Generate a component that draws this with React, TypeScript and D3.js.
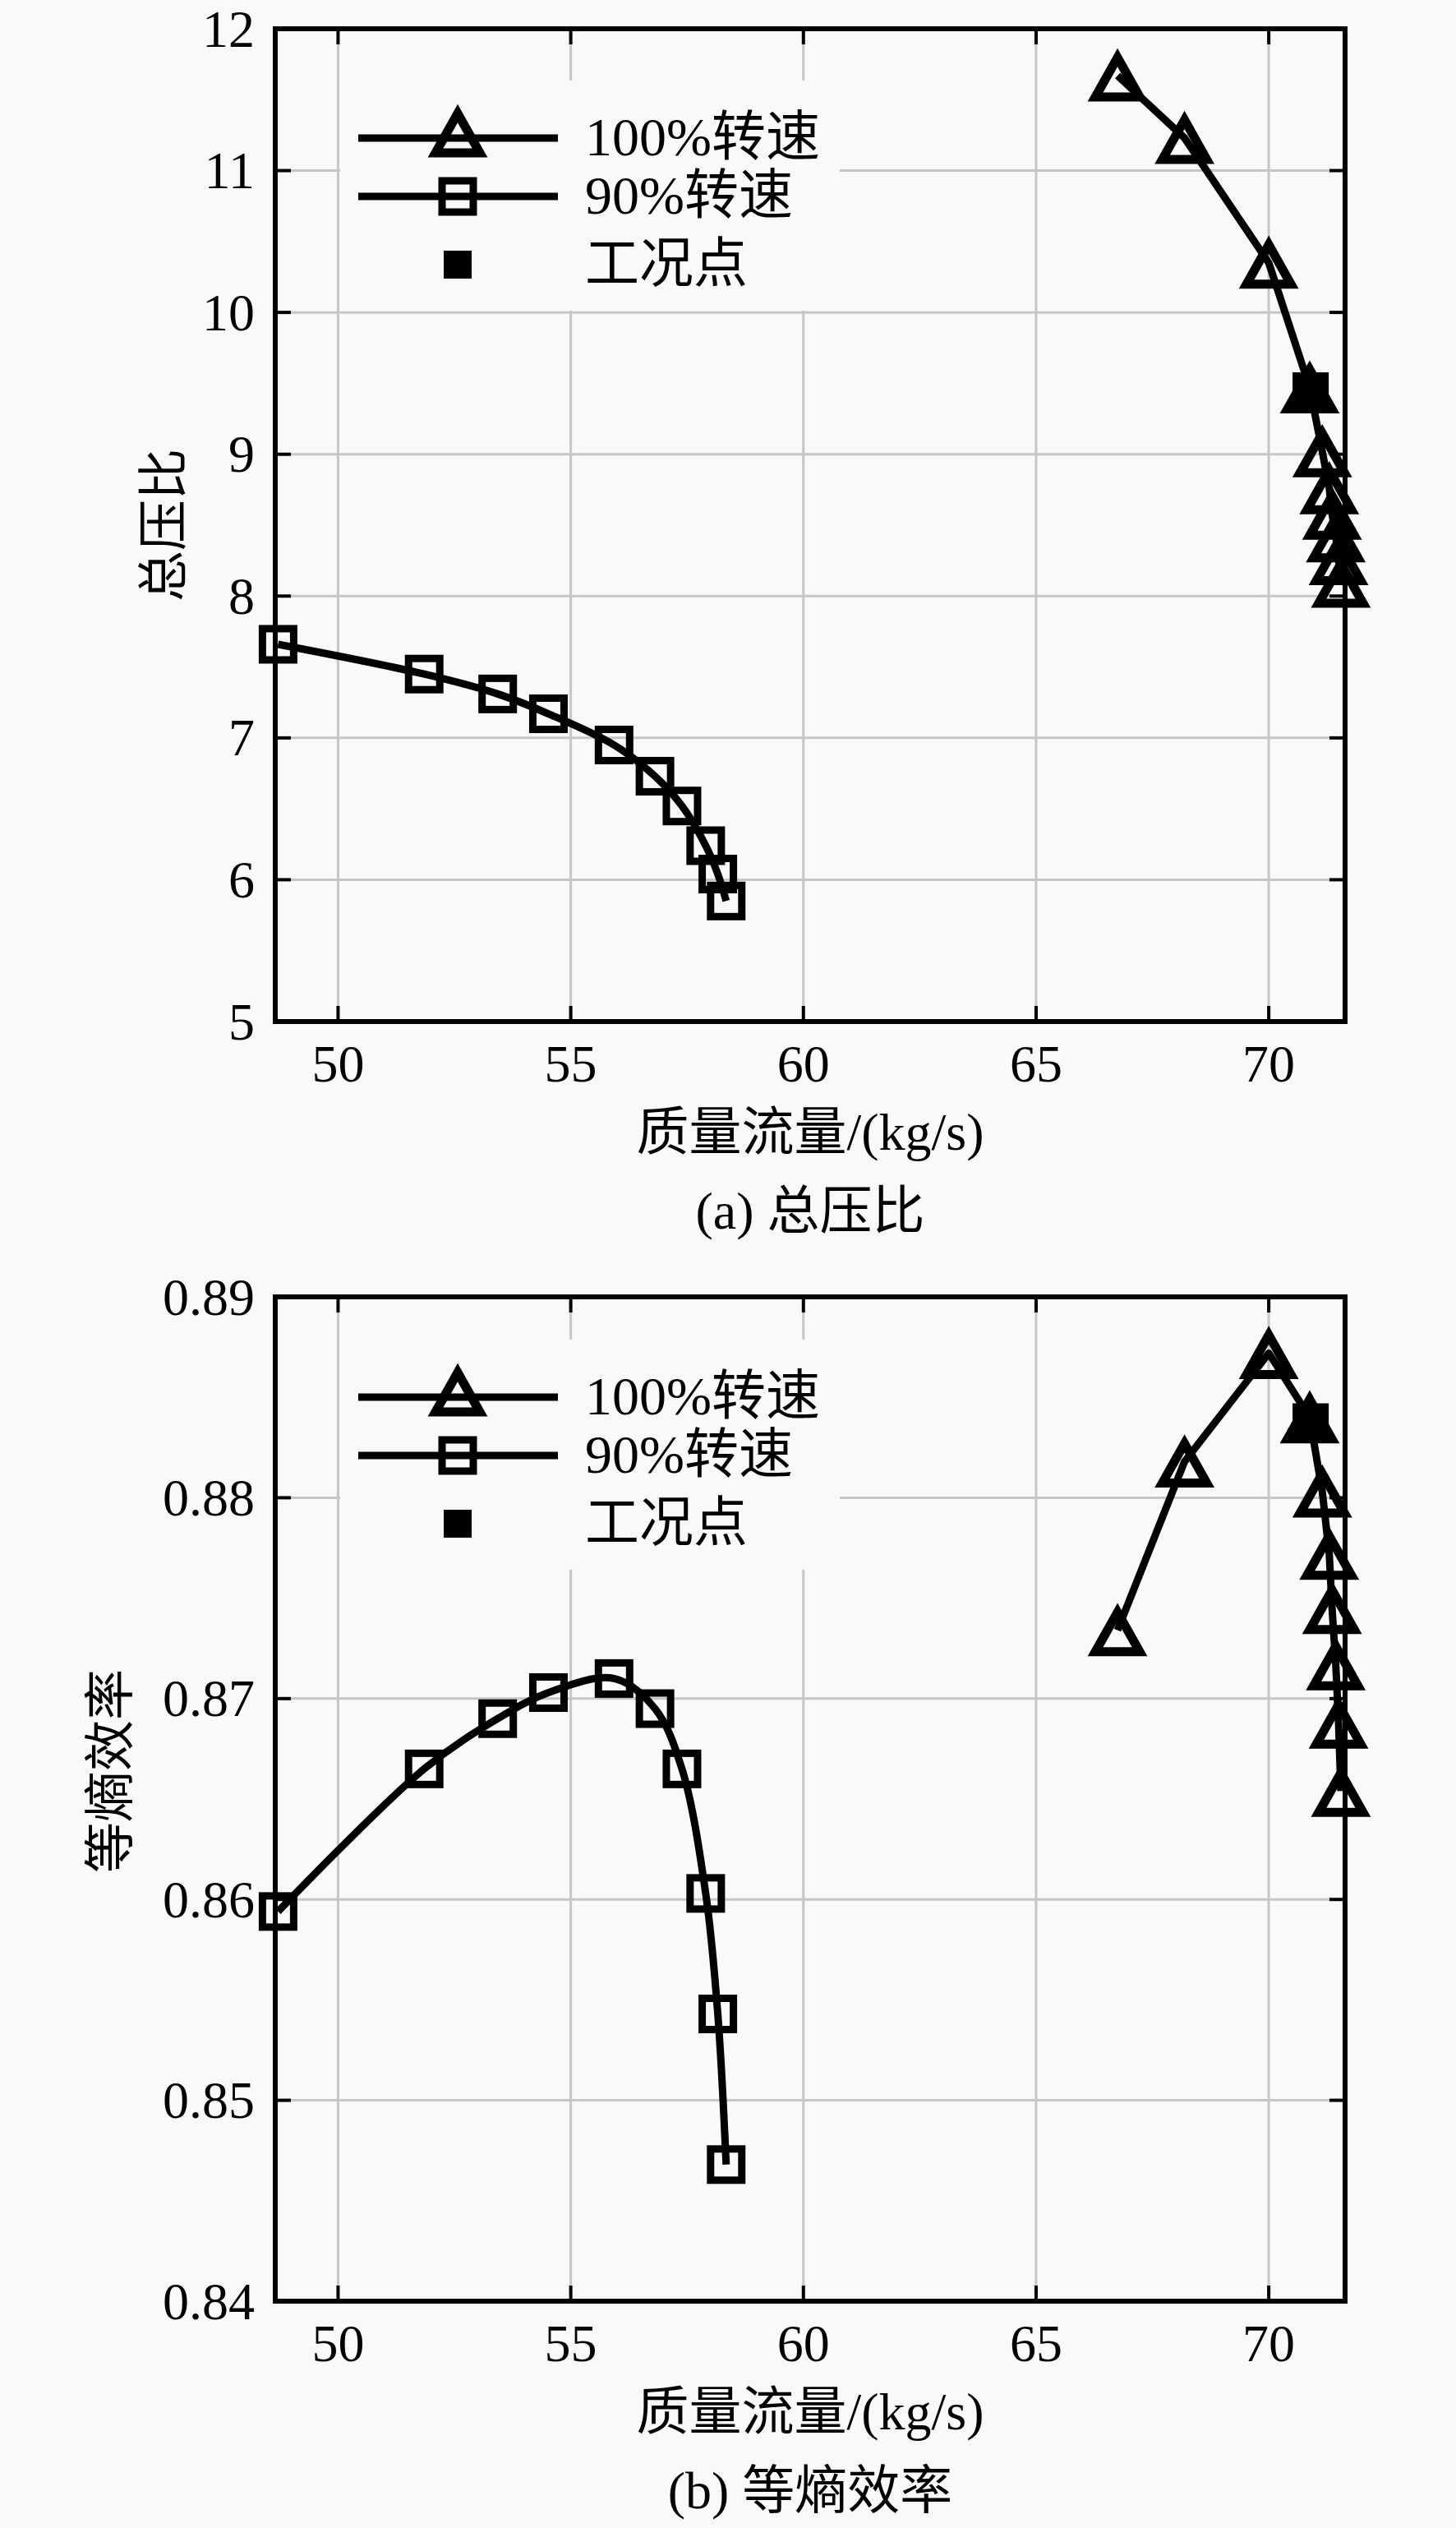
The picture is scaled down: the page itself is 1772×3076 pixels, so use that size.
import React, { useRef, useEffect } from 'react';
import * as d3 from 'd3';

// mass flow (kg/s) of each operating point
const flow100 = [66.75, 68.19, 70.0, 70.88, 71.15, 71.3, 71.36, 71.44, 71.5, 71.55];
const flow90 = [48.71, 51.85, 53.43, 54.52, 55.93, 56.81, 57.39, 57.9, 58.16, 58.34];

// total pressure ratio
const ratio100 = [11.67, 11.23, 10.35, 9.47, 9.02, 8.76, 8.58, 8.42, 8.26, 8.1];
const ratio90 = [7.66, 7.45, 7.31, 7.17, 6.95, 6.73, 6.52, 6.24, 6.04, 5.85];

// isentropic efficiency
const eff100 = [0.8734, 0.8818, 0.8872, 0.884, 0.8803, 0.8772, 0.8745, 0.8717, 0.8688, 0.8654];
const eff90 = [0.8594, 0.8665, 0.869, 0.8703, 0.871, 0.8695, 0.8665, 0.8603, 0.8543, 0.8468];

// design (working) point
const designFlow = 70.9;
const designRatio = 9.45;
const designEff = 0.8838;

const xTicks = [50, 55, 60, 65, 70];
const ratioTicks = [5, 6, 7, 8, 9, 10, 11, 12];
const effTicks = [0.84, 0.85, 0.86, 0.87, 0.88, 0.89];

const legendLabels = ['100%转速', '90%转速', '工况点'];
const xLabel = '质量流量/(kg/s)';

const W = 1772;
const H = 3076;
const BG = '#f9f9f9';
const FONT = 'Liberation Serif, Noto Sans CJK SC, serif';
const TRI = 'M0,-22 L27,26 L-27,26 Z';

interface PanelOpts {
  top: number;
  bottom: number;
  domain: [number, number];
  ticks: number[];
  fmt: (v: number) => string;
  y100: number[];
  y90: number[];
  yDesign: number;
  yTitle: string;
  yTitleX: number;
  yTitleY: number;
  caption: string;
  legendTop: number;
}

const drawPanel = (svg: d3.Selection<SVGSVGElement, unknown, null, undefined>, o: PanelOpts) => {
  const left = 335;
  const right = 1637;
  const x = d3.scaleLinear().domain([48.65, 71.64]).range([left, right]);
  const y = d3.scaleLinear().domain(o.domain).range([o.bottom, o.top]);
  const g = svg.append('g');

  // grid
  g.selectAll('line.gx')
    .data(xTicks)
    .enter()
    .append('line')
    .attr('x1', d => x(d)).attr('x2', d => x(d))
    .attr('y1', o.top).attr('y2', o.bottom)
    .attr('stroke', '#c6c6c6').attr('stroke-width', 3);
  g.selectAll('line.gy')
    .data(o.ticks.slice(1, -1))
    .enter()
    .append('line')
    .attr('x1', left).attr('x2', right)
    .attr('y1', d => y(d)).attr('y2', d => y(d))
    .attr('stroke', '#c6c6c6').attr('stroke-width', 3);

  // legend box hides the grid
  const lt = o.top + o.legendTop;
  g.append('rect')
    .attr('x', 414).attr('y', lt)
    .attr('width', 608).attr('height', 280)
    .attr('fill', BG);

  const rows = [lt + 70, lt + 141, lt + 224];
  const lg = g.append('g');
  [0, 1].forEach(i => {
    lg.append('line')
      .attr('x1', 436).attr('x2', 679)
      .attr('y1', rows[i]).attr('y2', rows[i])
      .attr('stroke', '#000').attr('stroke-width', 9);
  });
  lg.append('path')
    .attr('d', TRI)
    .attr('transform', `translate(557,${rows[0] - 8})`)
    .attr('fill', 'none').attr('stroke', '#000').attr('stroke-width', 11);
  lg.append('rect')
    .attr('x', 557 - 19).attr('y', rows[1] - 19)
    .attr('width', 38).attr('height', 38)
    .attr('fill', 'none').attr('stroke', '#000').attr('stroke-width', 9);
  lg.append('rect')
    .attr('x', 557 - 17).attr('y', rows[2] - 17)
    .attr('width', 34).attr('height', 34)
    .attr('fill', '#000');
  legendLabels.forEach((t, i) => {
    lg.append('text')
      .attr('x', 712).attr('y', rows[i] - 2)
      .attr('dominant-baseline', 'central')
      .attr('font-family', FONT).attr('font-size', 66)
      .text(t);
  });

  // curves
  const line100 = d3.line<number>()
    .x((_, i) => x(flow100[i]))
    .y(d => y(d));
  const line90 = d3.line<number>()
    .x((_, i) => x(flow90[i]))
    .y(d => y(d))
    .curve(d3.curveCatmullRom.alpha(0.5));

  g.append('path')
    .attr('d', line100(o.y100) || '')
    .attr('fill', 'none').attr('stroke', '#000').attr('stroke-width', 9)
    .attr('stroke-linejoin', 'round');
  g.append('path')
    .attr('d', line90(o.y90) || '')
    .attr('fill', 'none').attr('stroke', '#000').attr('stroke-width', 9)
    .attr('stroke-linejoin', 'round');

  g.selectAll('path.tri')
    .data(o.y100)
    .enter()
    .append('path')
    .attr('d', TRI)
    .attr('transform', (d, i) => `translate(${x(flow100[i])},${y(d)})`)
    .attr('fill', 'none').attr('stroke', '#000').attr('stroke-width', 11);
  g.selectAll('rect.sq')
    .data(o.y90)
    .enter()
    .append('rect')
    .attr('x', (_, i) => x(flow90[i]) - 19)
    .attr('y', d => y(d) - 19)
    .attr('width', 38).attr('height', 38)
    .attr('fill', 'none').attr('stroke', '#000').attr('stroke-width', 9);
  g.append('rect')
    .attr('x', x(designFlow) - 22).attr('y', y(o.yDesign) - 22)
    .attr('width', 44).attr('height', 44)
    .attr('fill', '#000');

  // frame and inward ticks
  g.append('rect')
    .attr('x', left).attr('y', o.top)
    .attr('width', right - left).attr('height', o.bottom - o.top)
    .attr('fill', 'none').attr('stroke', '#000').attr('stroke-width', 6);
  xTicks.forEach(t => {
    g.append('line').attr('x1', x(t)).attr('x2', x(t)).attr('y1', o.bottom).attr('y2', o.bottom - 19)
      .attr('stroke', '#000').attr('stroke-width', 4);
    g.append('line').attr('x1', x(t)).attr('x2', x(t)).attr('y1', o.top).attr('y2', o.top + 19)
      .attr('stroke', '#000').attr('stroke-width', 4);
    g.append('text')
      .attr('x', x(t)).attr('y', o.bottom + 73)
      .attr('text-anchor', 'middle')
      .attr('font-family', FONT).attr('font-size', 64)
      .text(t);
  });
  o.ticks.forEach(t => {
    g.append('line').attr('x1', left).attr('x2', left + 19).attr('y1', y(t)).attr('y2', y(t))
      .attr('stroke', '#000').attr('stroke-width', 4);
    g.append('line').attr('x1', right).attr('x2', right - 19).attr('y1', y(t)).attr('y2', y(t))
      .attr('stroke', '#000').attr('stroke-width', 4);
    g.append('text')
      .attr('x', left - 25).attr('y', y(t))
      .attr('text-anchor', 'end').attr('dominant-baseline', 'central')
      .attr('font-family', FONT).attr('font-size', 64)
      .text(o.fmt(t));
  });

  // titles
  g.append('text')
    .attr('transform', `translate(${o.yTitleX},${o.yTitleY}) rotate(-90)`)
    .attr('text-anchor', 'middle').attr('dominant-baseline', 'central')
    .attr('font-family', FONT).attr('font-size', 62)
    .text(o.yTitle);
  g.append('text')
    .attr('x', (left + right) / 2).attr('y', o.bottom + 134)
    .attr('text-anchor', 'middle').attr('dominant-baseline', 'central')
    .attr('font-family', FONT).attr('font-size', 64)
    .text(xLabel);
  g.append('text')
    .attr('x', (left + right) / 2).attr('y', o.bottom + 230)
    .attr('text-anchor', 'middle').attr('dominant-baseline', 'central')
    .attr('font-family', FONT).attr('font-size', 64)
    .text(o.caption);
};

const App: React.FC = () => {
  const svgRef = useRef<SVGSVGElement | null>(null);

  useEffect(() => {
    if (!svgRef.current) return;
    const svg = d3.select(svgRef.current);
    svg.selectAll('*').remove();

    svg.append('rect').attr('width', W).attr('height', H).attr('fill', BG);

    drawPanel(svg, {
      top: 35,
      bottom: 1243,
      domain: [5, 12],
      ticks: ratioTicks,
      fmt: v => String(v),
      y100: ratio100,
      y90: ratio90,
      yDesign: designRatio,
      yTitle: '总压比',
      yTitleX: 200,
      yTitleY: 639,
      caption: '(a) 总压比',
      legendTop: 63,
    });

    drawPanel(svg, {
      top: 1578,
      bottom: 2800,
      domain: [0.84, 0.89],
      ticks: effTicks,
      fmt: v => v.toFixed(2),
      y100: eff100,
      y90: eff90,
      yDesign: designEff,
      yTitle: '等熵效率',
      yTitleX: 135,
      yTitleY: 2155,
      caption: '(b) 等熵效率',
      legendTop: 52,
    });
  }, []);

  return (
    <div style={{ position: 'absolute', left: 0, top: 0 }}>
      <svg ref={svgRef} width={W} height={H} style={{ display: 'block' }}></svg>
    </div>
  );
};

export default App;
